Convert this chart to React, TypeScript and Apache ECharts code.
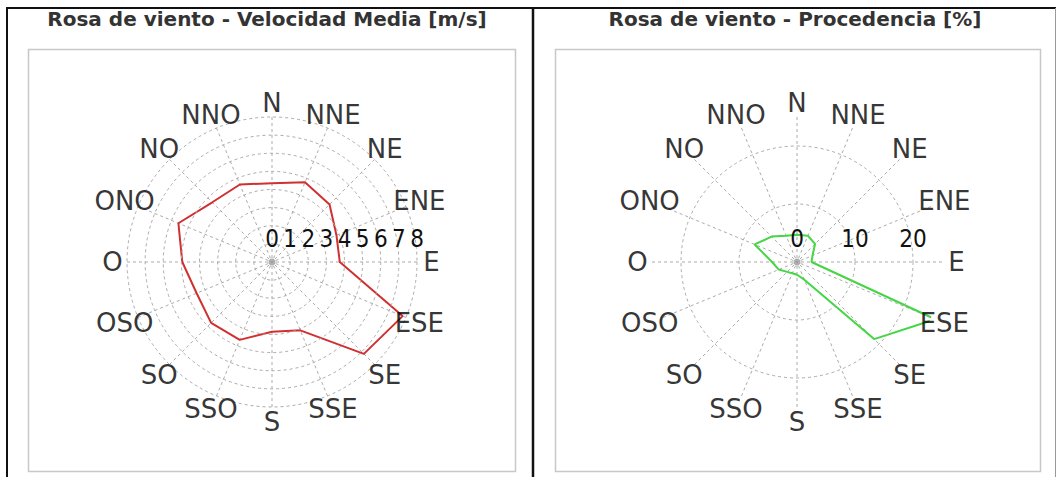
import React, { useEffect, useRef } from 'react';
import * as echarts from 'echarts';

// Compass directions, clockwise from North (Spanish: O = Oeste)
const directions = ['N', 'NNE', 'NE', 'ENE', 'E', 'ESE', 'SE', 'SSE', 'S', 'SSO', 'SO', 'OSO', 'O', 'ONO', 'NO', 'NNO'];

// Mean wind speed per direction [m/s]
const speedValues = [4.35, 4.76, 4.49, 3.85, 3.74, 7.8, 7.17, 4.08, 3.85, 4.65, 4.75, 4.5, 4.95, 5.59, 4.66, 4.63];
// Frequency of origin per direction [%]
const freqValues = [4.7, 4.9, 4.4, 2.9, 2.5, 25.8, 18.8, 3.3, 2.2, 2.1, 2.4, 3.4, 4.3, 7.9, 6.2, 4.9];

const speedTickLabels = ['0', '1', '2', '3', '4', '5', '6', '7', '8'];
const freqTickLabels = ['0', '10', '20'];
const speedMax = 8;
const speedInterval = 1;
const freqMax = 25;
const freqInterval = 10;

const titleLeft = 'Rosa de viento - Velocidad Media [m/s]';
const titleRight = 'Rosa de viento - Procedencia [%]';

// compass index -> polar angle (degrees, counter-clockwise from East)
const toAngle = (i: number) => (450 - i * 22.5) % 360;

const polygon = (values: number[]) => {
  const pts = values.map((v, i) => [v, toAngle(i)]);
  pts.push(pts[0]);
  return pts;
};

const GRID = '#ababab';
const DIR_FONT = "'DejaVu Sans', sans-serif";
const NUM_FONT = "'Liberation Sans Narrow', 'DejaVu Sans Condensed', 'DejaVu Sans Mono', sans-serif";

const angleAxisFor = (polarIndex: number) => ({
  polarIndex,
  type: 'value',
  min: 0,
  max: 360,
  interval: 22.5,
  startAngle: 0,
  clockwise: false,
  axisLine: { show: false },
  axisTick: { show: false },
  axisLabel: { show: false },
  splitLine: { show: true, lineStyle: { color: GRID, type: [3, 3], width: 1 } },
});

const labelSeries = (polarIndex: number, r: number) => ({
  type: 'scatter',
  coordinateSystem: 'polar',
  polarIndex,
  clip: false,
  symbolSize: 1,
  itemStyle: { color: 'rgba(0,0,0,0)' },
  silent: true,
  z: 5,
  label: {
    show: true,
    position: 'inside',
    formatter: '{b}',
    fontSize: 26,
    fontFamily: DIR_FONT,
    color: '#000',
    textBorderWidth: 0,
  },
  data: directions.map((d, i) => ({ name: d, value: [r, toAngle(i)] })),
});

const centerDot = (polarIndex: number) => ({
  type: 'scatter',
  coordinateSystem: 'polar',
  polarIndex,
  clip: false,
  symbolSize: 7,
  itemStyle: { color: '#9a9a9a' },
  silent: true,
  data: [[0, 0]],
});

const titleStyle = { fontSize: 20, fontWeight: 'bold', color: '#333', fontFamily: DIR_FONT };

export default function App() {
  const ref = useRef<HTMLDivElement>(null);
  useEffect(() => {
    if (!ref.current) return;
    const chart = echarts.init(ref.current, null, { renderer: 'svg' });
    chart.setOption({
      animation: false,
      backgroundColor: '#ffffff',
      title: [
        { text: titleLeft, left: 267, top: 9, textAlign: 'center', padding: 0, textStyle: titleStyle },
        { text: titleRight, left: 795, top: 9, textAlign: 'center', padding: 0, textStyle: titleStyle },
      ],
      graphic: [
        { type: 'line', shape: { x1: 6, y1: 8, x2: 1056, y2: 8 }, style: { stroke: '#111', lineWidth: 2 } },
        { type: 'line', shape: { x1: 7, y1: 8, x2: 7, y2: 477 }, style: { stroke: '#111', lineWidth: 2 } },
        { type: 'line', shape: { x1: 533, y1: 8, x2: 533, y2: 477 }, style: { stroke: '#111', lineWidth: 2.5 } },
        { type: 'line', shape: { x1: 1055.5, y1: 8, x2: 1055.5, y2: 477 }, style: { stroke: '#999', lineWidth: 1 } },
        { type: 'rect', shape: { x: 28.5, y: 49.5, width: 487, height: 422 }, style: { fill: 'none', stroke: '#c8c8c8', lineWidth: 1.5 } },
        { type: 'rect', shape: { x: 555.5, y: 49.5, width: 485, height: 422 }, style: { fill: 'none', stroke: '#c8c8c8', lineWidth: 1.5 } },
      ],
      polar: [
        { center: [272, 262], radius: 145 },
        { center: [797, 262], radius: 145 },
      ],
      angleAxis: [angleAxisFor(0), angleAxisFor(1)],
      radiusAxis: [
        {
          polarIndex: 0,
          type: 'value',
          min: 0,
          max: speedMax,
          interval: speedInterval,
          axisLine: { show: false },
          axisTick: { show: false },
          axisLabel: {
            margin: 11,
            fontSize: 24,
            fontFamily: NUM_FONT,
            color: '#111',
            formatter: (v: number) => (speedTickLabels.includes(String(v)) ? String(v) : ''),
          },
          splitLine: { show: true, lineStyle: { color: GRID, type: [3, 3], width: 1 } },
          z: 4,
        },
        {
          polarIndex: 1,
          type: 'value',
          min: 0,
          max: freqMax,
          interval: freqInterval,
          axisLine: { show: false },
          axisTick: { show: false },
          axisLabel: {
            margin: 11,
            fontSize: 24,
            fontFamily: NUM_FONT,
            color: '#111',
            formatter: (v: number) => (freqTickLabels.includes(String(v)) ? String(v) : ''),
          },
          splitLine: {
            show: true,
            lineStyle: { color: [GRID, GRID, GRID, 'rgba(0,0,0,0)'], type: [3, 3], width: 1 },
          },
          z: 4,
        },
      ],
      series: [
        centerDot(0),
        centerDot(1),
        {
          type: 'line',
          coordinateSystem: 'polar',
          polarIndex: 0,
          clip: false,
          symbol: 'none',
          lineStyle: { color: '#d03030', width: 2 },
          data: polygon(speedValues),
          z: 3,
        },
        {
          type: 'line',
          coordinateSystem: 'polar',
          polarIndex: 1,
          clip: false,
          symbol: 'none',
          lineStyle: { color: '#44d644', width: 2 },
          data: polygon(freqValues),
          z: 3,
        },
        labelSeries(0, speedMax * 1.1),
        labelSeries(1, freqMax * 1.1),
      ],
    });
    return () => chart.dispose();
  }, []);
  return <div ref={ref} style={{ position: 'absolute', left: 0, top: 0, width: 1057, height: 477 }} />;
}
